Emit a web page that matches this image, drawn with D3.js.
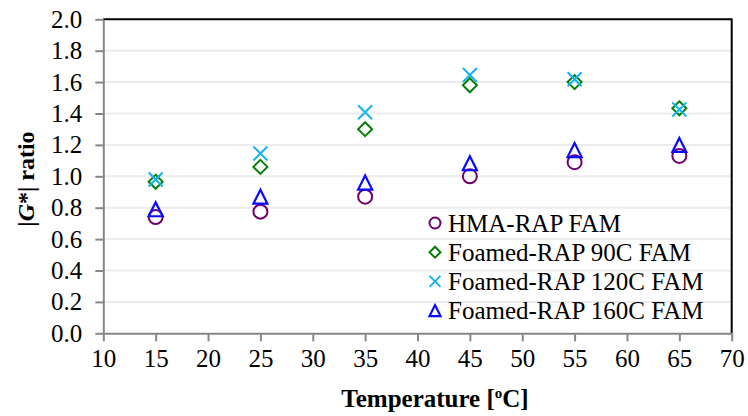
<!DOCTYPE html>
<html><head>
<script src="https://cdn.jsdelivr.net/npm/d3@7"></script>
<style>
svg text, svg tspan { font-family: "Times New Roman" !important; }
</style>
</head><body style="margin:0">
<svg id="chart" width="748" height="416" style="font-family:'Times New Roman'"></svg>
<script>
const temperatures = [15, 25, 35, 45, 55, 65];
const hmaRap = [0.74, 0.775, 0.87, 1.00, 1.09, 1.13];
const foamed90 = [0.965, 1.06, 1.30, 1.58, 1.60, 1.433];
const foamed120 = [0.98, 1.145, 1.408, 1.645, 1.618, 1.425];
const foamed160 = [0.79, 0.87, 0.96, 1.083, 1.167, 1.20];
const seriesNames = ["HMA-RAP FAM", "Foamed-RAP 90C FAM", "Foamed-RAP 120C FAM", "Foamed-RAP 160C FAM"];
const xTicks = [10, 15, 20, 25, 30, 35, 40, 45, 50, 55, 60, 65, 70];
const yTicks = [0, 0.2, 0.4, 0.6, 0.8, 1.0, 1.2, 1.4, 1.6, 1.8, 2.0];

const series = [
  {name: seriesNames[0], values: hmaRap, shape: "circle", color: "#6f006f"},
  {name: seriesNames[1], values: foamed90, shape: "diamond", color: "#078007"},
  {name: seriesNames[2], values: foamed120, shape: "x", color: "#14b4f0"},
  {name: seriesNames[3], values: foamed160, shape: "triangle", color: "#0a0aff"}
];

const FONT = "Times New Roman";
const svg = d3.select("#chart");
const L = 103.3, R = 731.7, T = 19.3, B = 333.3;
const x = d3.scaleLinear().domain([10, 70]).range([L, R]);
const y = d3.scaleLinear().domain([0, 2]).range([B, T]);

// gridlines
svg.append("g").selectAll("line").data(yTicks.filter(v => v > 0 && v < 2)).join("line")
  .attr("x1", L).attr("x2", R).attr("y1", d => y(d)).attr("y2", d => y(d))
  .attr("stroke", "#ececec").attr("stroke-width", 2);

// border top/right black
svg.append("path").attr("d", `M${L},${T}H${R}V${B}`).attr("fill", "none").attr("stroke", "#000").attr("stroke-width", 2);

// axes
const xAxis = d3.axisBottom(x).tickValues(xTicks).tickFormat(d3.format("d")).tickSizeOuter(0).tickSizeInner(8).tickPadding(8);
const gx = svg.append("g").attr("transform", `translate(0,${B})`).call(xAxis);
const yAxis = d3.axisLeft(y).tickValues(yTicks).tickFormat(d3.format(".1f")).tickSizeOuter(0).tickSizeInner(8).tickPadding(13);
const gy = svg.append("g").attr("transform", `translate(${L},0)`).call(yAxis);
[gx, gy].forEach(g => {
  g.attr("font-family", FONT).attr("font-size", 25);
  g.select(".domain").attr("stroke", "#868686").attr("stroke-width", 2);
  g.selectAll(".tick line").attr("stroke", "#868686").attr("stroke-width", 2);
  g.selectAll(".tick text").style("font-family", "'Times New Roman'").style("font-size", "25px").attr("fill", "#000");
});

// symbols
function drawSymbol(g, shape, color, cx, cy, s) {
  const h = s * 0.5;
  if (shape === "circle") {
    g.append("circle").attr("cx", cx).attr("cy", cy).attr("r", h).attr("fill", "none").attr("stroke", color).attr("stroke-width", 2);
  } else if (shape === "diamond") {
    g.append("path").attr("d", `M${cx},${cy - h}L${cx + h},${cy}L${cx},${cy + h}L${cx - h},${cy}Z`).attr("fill", "none").attr("stroke", color).attr("stroke-width", 2);
  } else if (shape === "x") {
    g.append("path").attr("d", `M${cx - h},${cy - h}L${cx + h},${cy + h}M${cx - h},${cy + h}L${cx + h},${cy - h}`).attr("fill", "none").attr("stroke", color).attr("stroke-width", 2);
  } else {
    g.append("path").attr("d", `M${cx},${cy - h}L${cx + h},${cy + h}L${cx - h},${cy + h}Z`).attr("fill", "none").attr("stroke", color).attr("stroke-width", 2.2);
  }
}

const pts = svg.append("g");
series.forEach(s => {
  s.values.forEach((v, i) => drawSymbol(pts, s.shape, s.color, x(temperatures[i]), y(v), 14));
});

// legend
const leg = svg.append("g");
series.forEach((s, i) => {
  const cy = 223 + i * 29.2;
  drawSymbol(leg, s.shape, s.color, 435, cy, 11);
  leg.append("text").attr("x", 448).attr("y", cy + 8.5)
    .style("font-family", "'Times New Roman'").style("font-size", "25px").attr("fill", "#000").text(s.name);
});

// axis titles
const xt = svg.append("text").attr("x", 435).attr("y", 407).attr("text-anchor", "middle")
  .style("font-family", "'Times New Roman'").style("font-size", "25px").style("font-weight", "bold").attr("fill", "#000");
xt.append("tspan").text("Temperature [");
xt.append("tspan").style("font-size", "15px").attr("dy", -9).text("o");
xt.append("tspan").attr("dy", 9).text("C]");

const yt = svg.append("text").attr("transform", "translate(34,179) rotate(-90)").attr("text-anchor", "middle")
  .style("font-family", "'Times New Roman'").style("font-size", "24px").style("font-weight", "bold").attr("fill", "#000");
yt.append("tspan").text("|");
yt.append("tspan").style("font-style", "italic").text("G");
yt.append("tspan").text("*| ratio");
</script>
</body></html>
